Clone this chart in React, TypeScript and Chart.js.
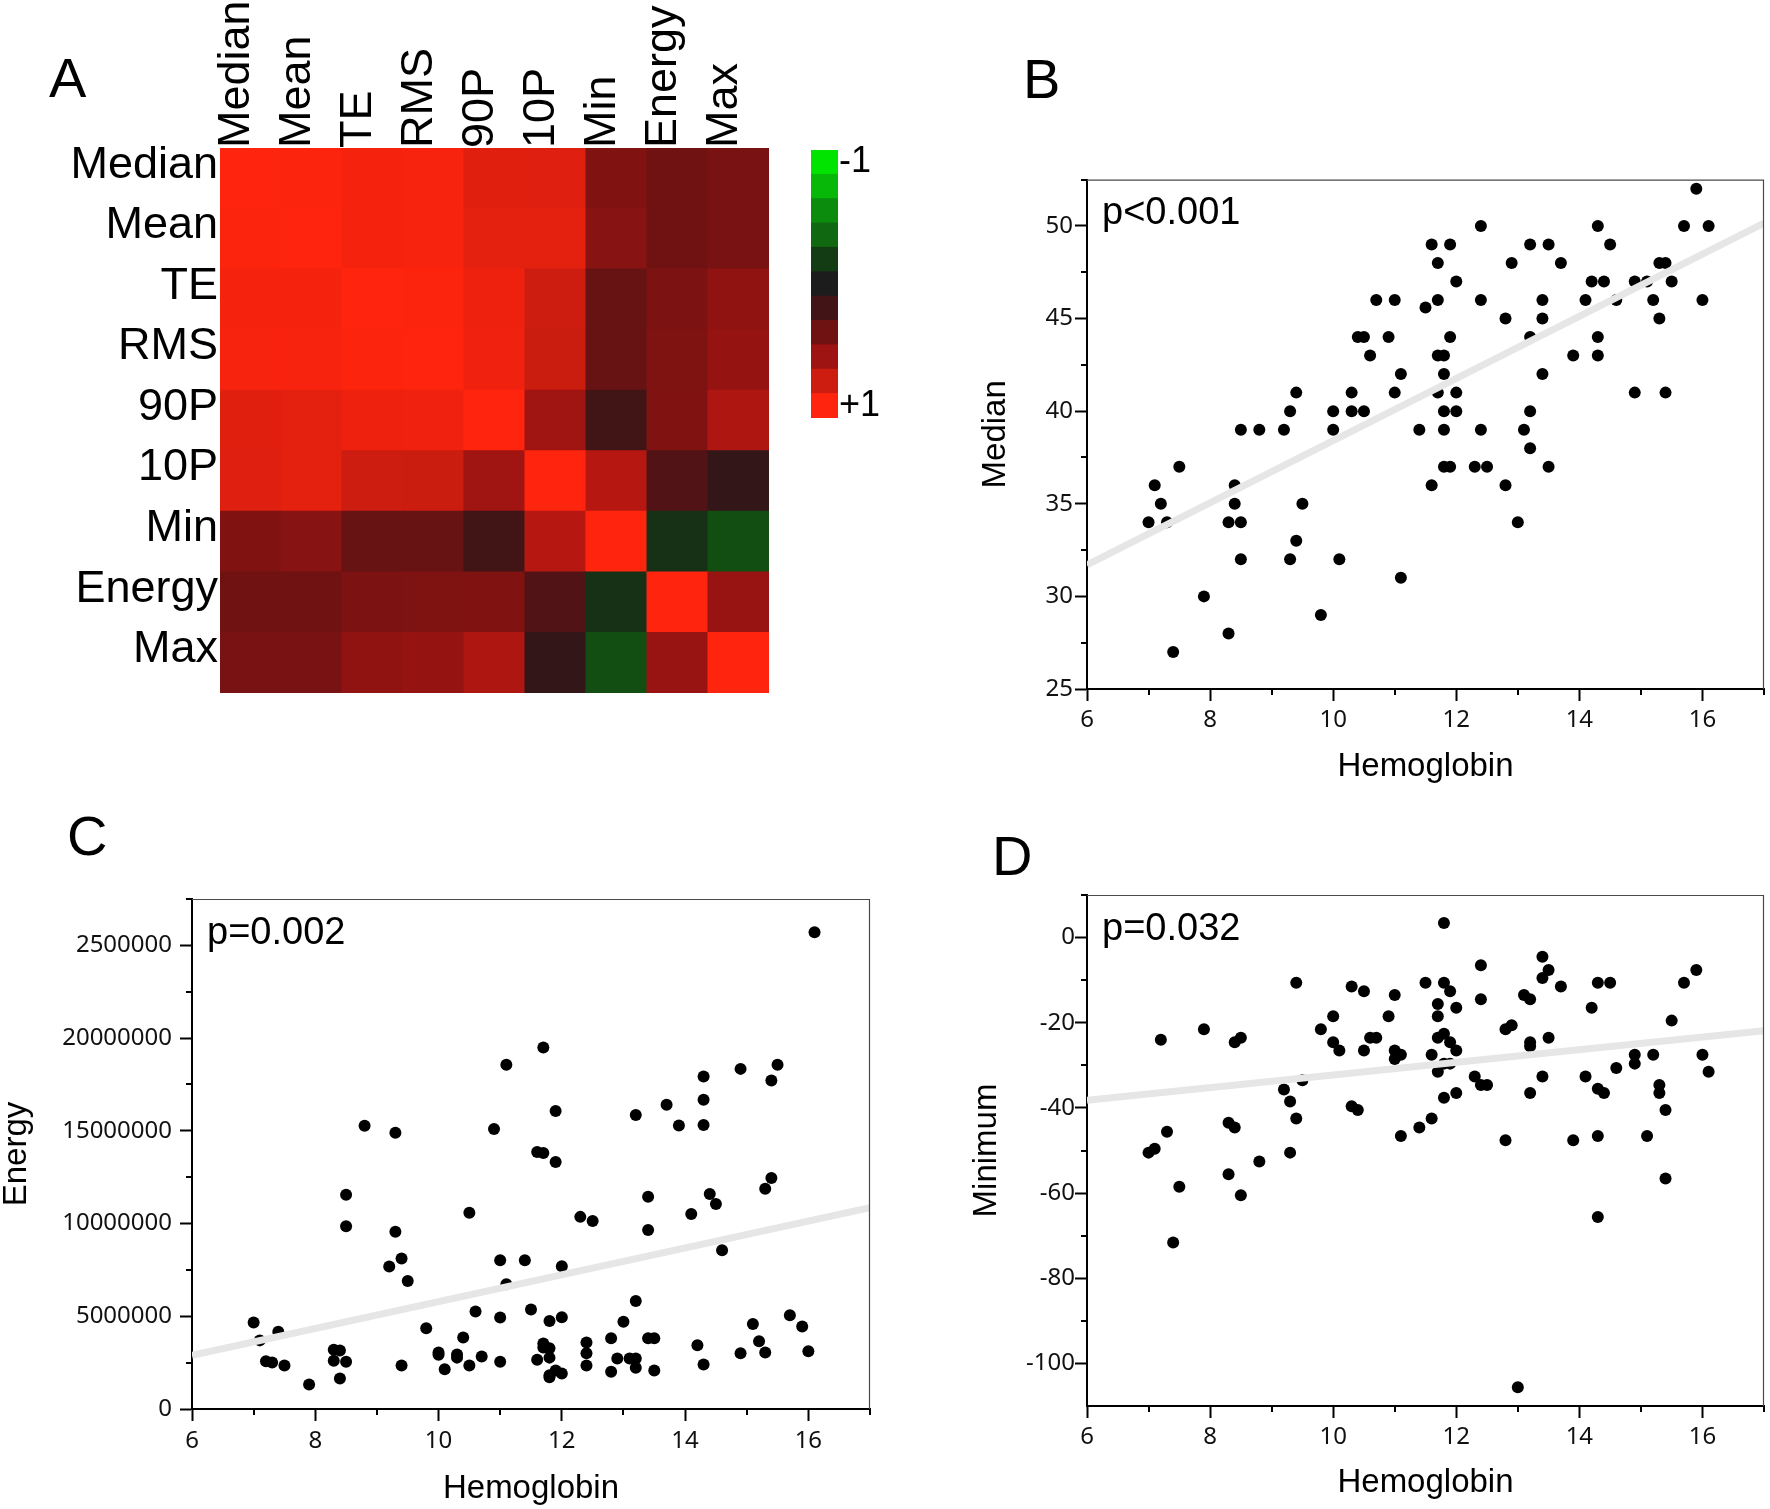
import React, { useEffect, useRef } from 'react';
import { Chart, registerables } from 'chart.js';

Chart.register(...registerables);

const LABEL_FONT = '"Liberation Sans", Arial, Helvetica, sans-serif';
const TICK_FONT = '"Noto Sans", "Open Sans", sans-serif';

// ---------------- Panel A : correlation heat map ----------------
const VARIABLES = ['Median', 'Mean', 'TE', 'RMS', '90P', '10P', 'Min', 'Energy', 'Max'];
const CORRELATIONS = [
  [1.0, 0.99, 0.96, 0.97, 0.88, 0.87, 0.47, 0.4, 0.44],
  [0.99, 1.0, 0.96, 0.97, 0.89, 0.89, 0.5, 0.4, 0.44],
  [0.96, 0.96, 1.0, 0.99, 0.93, 0.8, 0.36, 0.45, 0.54],
  [0.97, 0.97, 0.99, 1.0, 0.94, 0.79, 0.36, 0.46, 0.56],
  [0.88, 0.89, 0.93, 0.94, 1.0, 0.61, 0.19, 0.47, 0.67],
  [0.87, 0.89, 0.8, 0.79, 0.61, 1.0, 0.7, 0.26, 0.12],
  [0.47, 0.5, 0.36, 0.36, 0.19, 0.7, 1.0, -0.13, -0.28],
  [0.4, 0.4, 0.45, 0.46, 0.47, 0.26, -0.13, 1.0, 0.57],
  [0.44, 0.44, 0.54, 0.56, 0.67, 0.12, -0.28, 0.57, 1.0],
];
const LEGEND_STOPS = [-1, -0.8, -0.6, -0.4, -0.2, 0, 0.2, 0.4, 0.6, 0.8, 1];
const LEGEND_COLORS = ['#00e400', '#08b808', '#0c8c0c', '#106810', '#143c14', '#1c1c1c', '#431416', '#701212', '#9e1412', '#cd1c10', '#ff240e'];
const LEGEND_TICK_LABELS = ['+1', '-1'];

// ---------------- Panel B : Median vs Hemoglobin ----------------
const B_HB = [
  7.0, 7.1, 7.2, 7.3, 7.5, 7.4, 7.9, 8.3, 8.3, 8.4,
  8.4, 8.5, 8.5, 8.5, 8.8, 9.2, 9.3, 9.4, 9.3, 9.4,
  9.5, 9.8, 10.0, 10.0, 10.1, 10.3, 10.3, 10.4, 10.5, 10.5,
  10.6, 10.7, 10.9, 11.0, 11.0, 11.1, 11.1, 11.4, 11.5, 11.6,
  11.7, 11.7, 11.7, 11.8, 11.8, 11.7, 11.8, 11.8, 11.8, 11.6,
  11.9, 11.9, 11.9, 12.0, 12.0, 12.0, 12.3, 12.4, 12.4, 12.4,
  12.5, 12.8, 12.8, 12.9, 13.0, 13.1, 13.2, 13.2, 13.2, 13.2,
  13.4, 13.4, 13.4, 13.5, 13.5, 13.7, 13.9, 14.1, 14.2, 14.3,
  14.3, 14.3, 14.4, 14.5, 14.6, 14.9, 14.9, 15.1, 15.2, 15.3,
  15.4, 15.3, 15.4, 15.5, 15.7, 15.9, 16.0, 16.1,
];
const B_MEDIAN = [
  34, 36, 35, 34, 37, 27, 30, 28, 34, 36,
  35, 39, 34, 32, 39, 39, 40, 41, 32, 33,
  35, 29, 40, 39, 32, 41, 40, 44, 44, 40,
  43, 46, 44, 46, 41, 42, 31, 39, 45.6, 49,
  48, 46, 43, 43, 42, 41, 40, 39, 37, 36,
  49, 44, 37, 47, 41, 40, 37, 50, 46, 39,
  37, 45, 36, 48, 34, 39, 49, 44, 40, 38,
  46, 45, 42, 49, 37, 48, 43, 46, 47, 50,
  44, 43, 47, 49, 46, 47, 41, 47, 46, 48,
  48, 45, 41, 47, 50, 52, 46, 50,
];
const B_FIT_X = [6, 17];
const B_FIT_Y = [31.7, 50.15];
const B_Y_TICKS = [25, 30, 35, 40, 45, 50];
const B_Y_MINOR = [27.5, 32.5, 37.5, 42.5, 47.5, 52.5];

// ---------------- Panel C : Energy vs Hemoglobin ----------------
const C_HB = [
  7.0, 7.1, 7.4, 7.2, 7.3, 7.5, 7.9, 8.3, 8.4, 8.3,
  8.5, 8.4, 8.5, 8.5, 8.8, 9.3, 9.3, 9.4, 9.2, 9.5,
  9.4, 9.8, 10.0, 10.0, 10.1, 10.3, 10.3, 10.4, 10.5, 10.5,
  10.6, 10.7, 10.9, 11.0, 11.0, 11.0, 11.1, 11.1, 11.4, 11.5,
  11.6, 11.6, 11.7, 11.7, 11.7, 11.7, 11.8, 11.8, 11.8, 11.8,
  11.8, 11.9, 11.9, 11.9, 12.0, 12.0, 12.0, 12.3, 12.5, 12.4,
  12.4, 12.4, 12.8, 12.8, 12.9, 13.0, 13.1, 13.2, 13.2, 13.2,
  13.2, 13.4, 13.4, 13.4, 13.5, 13.5, 13.7, 13.9, 14.1, 14.2,
  14.3, 14.3, 14.3, 14.3, 14.4, 14.5, 14.6, 14.9, 14.9, 15.1,
  15.2, 15.3, 15.3, 15.4, 15.4, 15.5, 15.7, 15.9, 16.0, 16.1,
];
const C_ENERGY = [
  4670000, 3700000, 4170000, 2570000, 2510000, 2340000, 1320000, 3200000, 3160000, 2600000,
  2550000, 1640000, 11550000, 9860000, 15270000, 14900000, 9560000, 8110000, 7680000, 6900000,
  2340000, 4350000, 3050000, 2920000, 2140000, 2940000, 2770000, 3850000, 2340000, 10580000,
  5260000, 2830000, 15100000, 8020000, 4930000, 2550000, 18560000, 6730000, 8020000, 5360000,
  2660000, 13860000, 13800000, 19490000, 3530000, 3310000, 3270000, 4740000, 2770000, 1820000,
  1710000, 2080000, 16070000, 13320000, 7700000, 4950000, 1920000, 10360000, 10140000, 3590000,
  3010000, 2340000, 3810000, 2010000, 2720000, 4710000, 2720000, 2720000, 2230000, 5820000,
  15850000, 11440000, 9650000, 3810000, 3810000, 2080000, 16410000, 15290000, 10510000, 3440000,
  17930000, 16670000, 15310000, 2400000, 11590000, 11050000, 8560000, 18340000, 3010000, 4580000,
  3650000, 3050000, 11870000, 12460000, 17710000, 18560000, 5060000, 4450000, 3110000, 25710000,
];
const C_FIT_X = [6, 17];
const C_FIT_Y = [2900000, 10850000];
const C_Y_TICKS = [0, 5000000, 10000000, 15000000, 20000000, 25000000];
const C_Y_TICK_LABELS = ['0', '5000000', '10000000', '15000000', '20000000', '2500000'];
const C_Y_MINOR = [2500000, 7500000, 12500000, 17500000, 22500000, 27500000];

// ---------------- Panel D : Minimum vs Hemoglobin ----------------
const D_HB = [
  7.0, 7.1, 7.2, 7.3, 7.4, 7.5, 7.9, 8.3, 8.3, 8.4,
  8.4, 8.5, 8.5, 8.8, 9.2, 9.3, 9.3, 9.4, 9.4, 9.5,
  9.8, 10.0, 10.0, 10.1, 10.3, 10.3, 10.4, 10.5, 10.5, 10.6,
  10.7, 10.9, 11.0, 11.0, 11.0, 11.1, 11.1, 11.4, 11.5, 11.6,
  11.6, 11.7, 11.7, 11.7, 11.7, 11.8, 11.8, 11.8, 11.8, 11.8,
  11.9, 11.9, 11.9, 12.0, 12.0, 12.0, 12.3, 12.4, 12.4, 12.4,
  12.5, 12.8, 12.8, 12.9, 13.0, 13.1, 13.2, 13.2, 13.2, 13.2,
  13.4, 13.4, 13.4, 13.5, 13.5, 13.7, 13.9, 14.1, 14.2, 14.3,
  14.3, 14.3, 14.3, 14.4, 14.5, 14.6, 14.9, 14.9, 15.1, 15.2,
  15.3, 15.3, 15.4, 15.4, 15.5, 15.7, 15.9, 16.0, 16.1,
];
const D_MINIMUM = [
  -50.5, -49.6, -24.0, -45.6, -71.6, -58.5, -21.5, -43.5, -55.6, -44.6,
  -24.6, -23.5, -60.5, -52.6, -35.7, -38.5, -50.5, -42.5, -10.6, -33.5,
  -21.5, -18.5, -24.6, -26.5, -11.5, -39.6, -40.5, -12.6, -26.5, -23.5,
  -23.5, -18.5, -13.5, -26.5, -28.5, -27.5, -46.6, -44.6, -10.6, -27.5,
  -42.5, -15.6, -18.5, -23.5, -31.5, 3.4, -10.6, -22.6, -29.6, -37.6,
  -12.6, -24.6, -29.6, -16.5, -26.5, -36.5, -32.6, -6.5, -14.5, -34.6,
  -34.6, -21.5, -47.6, -20.6, -105.6, -13.5, -14.5, -24.6, -25.5, -36.5,
  -4.5, -9.5, -32.6, -7.6, -23.5, -11.5, -47.6, -32.6, -16.5, -10.6,
  -35.5, -46.6, -65.6, -36.5, -10.6, -30.6, -27.5, -29.6, -46.6, -27.5,
  -34.6, -36.5, -40.5, -56.6, -19.5, -10.6, -7.6, -27.5, -31.5,
];
const D_FIT_X = [6, 17];
const D_FIT_Y = [-38.2, -21.9];
const D_Y_TICKS = [-100, -80, -60, -40, -20, 0];
const D_Y_MINOR = [-90, -70, -50, -30, -10, 10];

// shared x axis (Hemoglobin)
const X_TICKS = [6, 8, 10, 12, 14, 16];
const X_MINOR = [7, 9, 11, 13, 15, 17];

// ---------------- helpers ----------------
function hexToRgb(h: string) {
  const n = parseInt(h.slice(1), 16);
  return [(n >> 16) & 255, (n >> 8) & 255, n & 255];
}
function corrColor(v: number) {
  for (let i = 0; i < LEGEND_STOPS.length - 1; i++) {
    const a = LEGEND_STOPS[i];
    const b = LEGEND_STOPS[i + 1];
    if (v <= b || i === LEGEND_STOPS.length - 2) {
      const t = Math.max(0, Math.min(1, (v - a) / (b - a)));
      const c1 = hexToRgb(LEGEND_COLORS[i]);
      const c2 = hexToRgb(LEGEND_COLORS[i + 1]);
      const c = c1.map((x, k) => Math.round(x + (c2[k] - x) * t));
      return `rgb(${c[0]},${c[1]},${c[2]})`;
    }
  }
  return LEGEND_COLORS[LEGEND_COLORS.length - 1];
}
const zip = (xs: number[], ys: number[]) => xs.map((x, i) => ({ x, y: ys[i] }));

function heatmapConfig(): any {
  const n = VARIABLES.length;
  const datasets = VARIABLES.map((_, j) => {
    const r = n - 1 - j;
    return {
      label: VARIABLES[r],
      data: VARIABLES.map(() => 1),
      backgroundColor: CORRELATIONS[r].map(corrColor),
      borderWidth: 0,
      inflateAmount: 0.5,
      barPercentage: 1,
      categoryPercentage: 1,
    };
  });
  return {
    type: 'bar',
    data: { labels: VARIABLES, datasets },
    options: {
      responsive: false,
      animation: false,
      events: [],
      layout: { padding: { left: 0, top: 0, right: 21, bottom: 7 } },
      plugins: { legend: { display: false }, tooltip: { enabled: false } },
      scales: {
        x: {
          stacked: true,
          position: 'top',
          grid: { display: false, drawTicks: false },
          border: { display: false },
          ticks: {
            autoSkip: false,
            minRotation: 90,
            maxRotation: 90,
            padding: 0,
            labelOffset: 40,
            color: '#000',
            font: { family: LABEL_FONT, size: 45, lineHeight: 1.2 },
          },
          afterFit: (s: any) => { s.height = 148; s.paddingLeft = 0; s.paddingRight = 0; },
        },
        y: {
          stacked: true,
          min: 0,
          max: n,
          grid: { display: false, drawTicks: false },
          border: { display: false },
          afterBuildTicks: (s: any) => { s.ticks = VARIABLES.map((_, i) => ({ value: i + 0.5 })); },
          ticks: {
            autoSkip: false,
            padding: 2,
            labelOffset: -13,
            color: '#000',
            font: { family: LABEL_FONT, size: 45, lineHeight: 1.2 },
            callback: (v: number) => VARIABLES[n - 1 - Math.floor(v)],
          },
          afterFit: (s: any) => { s.width = 220; s.paddingTop = 0; s.paddingBottom = 0; },
        },
      },
    },
  };
}

function legendConfig(): any {
  const datasets = LEGEND_COLORS.slice().reverse().map((c) => ({
    data: [1],
    backgroundColor: c,
    borderWidth: 0,
    inflateAmount: 0.5,
    barPercentage: 1,
    categoryPercentage: 1,
  }));
  const total = LEGEND_STOPS.length;
  return {
    type: 'bar',
    data: { labels: [''], datasets },
    options: {
      responsive: false,
      animation: false,
      events: [],
      layout: { padding: { left: 11, top: 20, right: 0, bottom: 22 } },
      plugins: { legend: { display: false }, tooltip: { enabled: false } },
      scales: {
        x: { stacked: true, display: false },
        y: {
          stacked: true,
          position: 'right',
          min: 0,
          max: total,
          grid: { display: false, drawTicks: false },
          border: { display: false },
          afterBuildTicks: (s: any) => { s.ticks = [{ value: 0.5 }, { value: total - 0.5 }]; },
          ticks: {
            padding: 1,
            color: '#000',
            font: { family: LABEL_FONT, size: 36, lineHeight: 1.2 },
            callback: (_v: number, i: number) => LEGEND_TICK_LABELS[i],
          },
          afterFit: (s: any) => { s.width = 82; s.paddingTop = 0; s.paddingBottom = 0; },
        },
      },
    },
  };
}

interface ScatterSpec {
  xs: number[]; ys: number[]; fitX: number[]; fitY: number[];
  yMin: number; yMax: number; yTicks: number[]; yMinor: number[]; yLabels?: string[];
  yTitle: string;
  yAxisWidth: number; yTitlePad: number; yTickPad: number;
  xAxisHeight: number; xTitlePad: number; xTickPad: number;
  padTop: number; padRight: number;
}

function makeDecor(spec: ScatterSpec) {
  return {
    id: 'decor',
    afterDatasetsDraw(chart: any) {
      const { ctx, chartArea: a, scales } = chart;
      ctx.save();
      ctx.strokeStyle = '#4a4a4a';
      ctx.lineWidth = 1.2;
      ctx.beginPath();
      ctx.moveTo(a.left, a.top + 0.5);
      ctx.lineTo(a.right - 0.5, a.top + 0.5);
      ctx.lineTo(a.right - 0.5, a.bottom);
      ctx.stroke();
      ctx.strokeStyle = '#000';
      ctx.lineWidth = 2;
      for (const v of X_MINOR) {
        const px = Math.round(scales.x.getPixelForValue(v));
        ctx.beginPath();
        ctx.moveTo(px, a.bottom);
        ctx.lineTo(px, a.bottom + 6);
        ctx.stroke();
      }
      for (const v of spec.yMinor) {
        const py = Math.round(scales.y.getPixelForValue(v));
        ctx.beginPath();
        ctx.moveTo(a.left, py);
        ctx.lineTo(a.left - 6, py);
        ctx.stroke();
      }
      ctx.restore();
    },
  };
}

function scatterConfig(spec: ScatterSpec): any {
  const tickFont = { family: TICK_FONT, size: 24, lineHeight: 1.2 };
  const titleFont = { family: LABEL_FONT, size: 33, lineHeight: 1 };
  const grid = { display: true, drawOnChartArea: false, drawTicks: true, tickLength: 12, tickWidth: 2, tickColor: '#000' };
  return {
    type: 'scatter',
    data: {
      datasets: [
        {
          type: 'line',
          data: zip(spec.fitX, spec.fitY),
          borderColor: '#e6e6e6',
          borderWidth: 7,
          borderCapStyle: 'butt',
          pointRadius: 0,
          fill: false,
          order: 0,
        },
        {
          type: 'scatter',
          data: zip(spec.xs, spec.ys),
          pointRadius: 6,
          pointBackgroundColor: '#000',
          pointBorderWidth: 0,
          order: 1,
        },
      ],
    },
    plugins: [makeDecor(spec)],
    options: {
      responsive: false,
      animation: false,
      events: [],
      layout: { padding: { left: 0, top: spec.padTop, right: spec.padRight, bottom: 0 } },
      plugins: { legend: { display: false }, tooltip: { enabled: false } },
      scales: {
        x: {
          type: 'linear',
          position: 'bottom',
          min: 6,
          max: 17,
          afterBuildTicks: (s: any) => { s.ticks = X_TICKS.map((v) => ({ value: v })); },
          afterFit: (s: any) => { s.height = spec.xAxisHeight; s.paddingLeft = 0; s.paddingRight = 0; },
          ticks: { autoSkip: false, maxRotation: 0, padding: spec.xTickPad, color: '#111', font: tickFont, callback: (v: number) => String(v) },
          grid,
          border: { display: true, color: '#000', width: 2 },
          title: { display: true, text: 'Hemoglobin', color: '#000', font: titleFont, padding: { top: 0, bottom: spec.xTitlePad } },
        },
        y: {
          type: 'linear',
          position: 'left',
          min: spec.yMin,
          max: spec.yMax,
          afterBuildTicks: (s: any) => { s.ticks = spec.yTicks.map((v) => ({ value: v })); },
          afterFit: (s: any) => { s.width = spec.yAxisWidth; s.paddingTop = 0; s.paddingBottom = 0; },
          ticks: {
            autoSkip: false,
            padding: spec.yTickPad,
            color: '#111',
            font: tickFont,
            callback: (v: number, i: number) => (spec.yLabels ? spec.yLabels[i] : String(v)),
          },
          grid,
          border: { display: true, color: '#000', width: 2 },
          title: { display: true, text: spec.yTitle, color: '#000', font: titleFont, padding: { top: spec.yTitlePad, bottom: 0 } },
        },
      },
    },
  };
}

const B_SPEC: ScatterSpec = {
  xs: B_HB, ys: B_MEDIAN, fitX: B_FIT_X, fitY: B_FIT_Y,
  yMin: 25, yMax: 52.5, yTicks: B_Y_TICKS, yMinor: B_Y_MINOR, yTitle: 'Median',
  yAxisWidth: 127, yTitlePad: 19, yTickPad: 2,
  xAxisHeight: 101, xTitlePad: 7, xTickPad: 5,
  padTop: 29.6, padRight: 3,
};
const C_SPEC: ScatterSpec = {
  xs: C_HB, ys: C_ENERGY, fitX: C_FIT_X, fitY: C_FIT_Y,
  yMin: 0, yMax: 27500000, yTicks: C_Y_TICKS, yMinor: C_Y_MINOR, yLabels: C_Y_TICK_LABELS, yTitle: 'Energy',
  yAxisWidth: 192, yTitlePad: 0, yTickPad: 8,
  xAxisHeight: 100, xTitlePad: 3.5, xTickPad: 6,
  padTop: 19, padRight: 10,
};
const D_SPEC: ScatterSpec = {
  xs: D_HB, ys: D_MINIMUM, fitX: D_FIT_X, fitY: D_FIT_Y,
  yMin: -110, yMax: 10, yTicks: D_Y_TICKS, yMinor: D_Y_MINOR, yTitle: 'Minimum',
  yAxisWidth: 127, yTitlePad: 10, yTickPad: 0,
  xAxisHeight: 103, xTitlePad: 9.5, xTickPad: 5,
  padTop: 15, padRight: 3,
};

function ChartBox(props: { left: number; top: number; width: number; height: number; make: () => any }) {
  const ref = useRef<HTMLCanvasElement>(null);
  useEffect(() => {
    const chart = new Chart(ref.current as HTMLCanvasElement, props.make());
    return () => chart.destroy();
  }, []);
  return (
    <canvas
      ref={ref}
      width={props.width}
      height={props.height}
      style={{ position: 'absolute', left: props.left, top: props.top, width: props.width, height: props.height }}
    />
  );
}

const letterStyle = (left: number, top: number): React.CSSProperties => ({
  position: 'absolute', left, top, fontFamily: LABEL_FONT, fontSize: 56, lineHeight: '56px', color: '#000', whiteSpace: 'nowrap',
});
const pStyle = (left: number, top: number): React.CSSProperties => ({
  position: 'absolute', left, top, fontFamily: LABEL_FONT, fontSize: 38, lineHeight: '38px', color: '#000', whiteSpace: 'nowrap',
});

export default function App() {
  return (
    <div style={{ position: 'absolute', left: 0, top: 0, width: 1770, height: 1509, background: '#fff', overflow: 'hidden' }}>
      <ChartBox left={0} top={0} width={790} height={700} make={heatmapConfig} />
      <ChartBox left={800} top={130} width={120} height={310} make={legendConfig} />
      <ChartBox left={960} top={150} width={810} height={640} make={() => scatterConfig(B_SPEC)} />
      <ChartBox left={0} top={880} width={880} height={629} make={() => scatterConfig(C_SPEC)} />
      <ChartBox left={960} top={880} width={810} height={629} make={() => scatterConfig(D_SPEC)} />
      <div style={letterStyle(49, 50)}>A</div>
      <div style={letterStyle(1023, 51)}>B</div>
      <div style={letterStyle(67, 808)}>C</div>
      <div style={letterStyle(992, 828)}>D</div>
      <div style={pStyle(1102, 192)}>p&lt;0.001</div>
      <div style={pStyle(207, 912)}>p=0.002</div>
      <div style={pStyle(1102, 908)}>p=0.032</div>
    </div>
  );
}
